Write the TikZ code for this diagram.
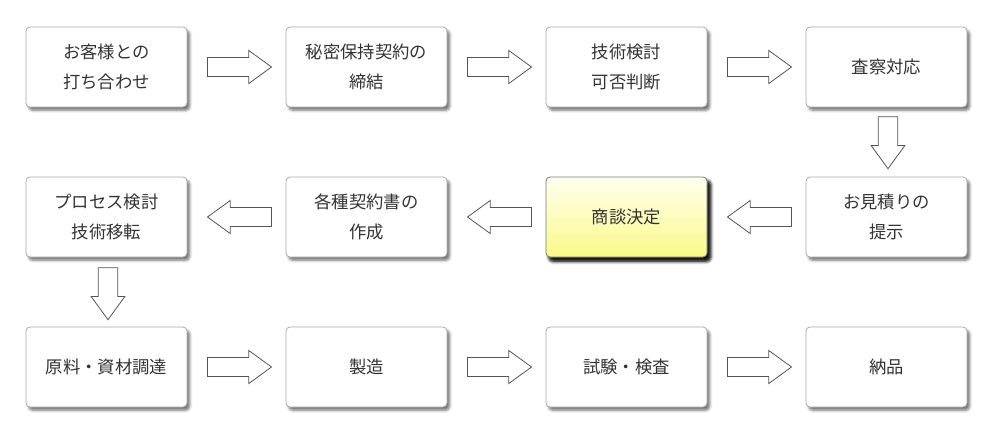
\documentclass[tikz,border=0pt]{standalone}
\usepackage{fontspec}
\setmainfont{Noto Sans CJK JP}
\usetikzlibrary{shapes.arrows,shadows.blur}
\definecolor{txt}{HTML}{333333}
\definecolor{bord}{HTML}{A8A8A8}
\definecolor{arr}{HTML}{555555}
\definecolor{ytop}{HTML}{FFFFF0}
\definecolor{ybot}{HTML}{FAFA88}
\tikzset{
  stepbox/.style={draw=bord, line width=0.6pt, rounded corners=3pt, fill=white,
    minimum width=161*0.75pt, minimum height=80*0.75pt, align=center,
    font=\fontsize{13pt}{22.5pt}\selectfont, text=txt,
    blur shadow={shadow xshift=2pt, shadow yshift=-2.5pt, shadow blur radius=2pt, shadow opacity=55}},
  hlbox/.style={stepbox, draw=arr!80, top color=ytop, bottom color=ybot,
    blur shadow={shadow xshift=2.5pt, shadow yshift=-3pt, shadow blur radius=2.5pt, shadow opacity=80}},
  blockarrow/.style={single arrow, draw=arr, line width=0.6pt, fill=white,
    inner sep=0pt, inner ysep=6.8pt, minimum height=64*0.75pt,
    single arrow head extend=5.3pt, single arrow tip angle=72},
  downarrow/.style={blockarrow, inner xsep=7pt, inner ysep=0pt, shape border rotate=270, minimum height=52*0.75pt},
  leftarrow/.style={blockarrow, shape border rotate=180}
}
\begin{document}
\begin{tikzpicture}[x=0.75pt,y=-0.75pt]
\useasboundingbox (0,0) rectangle (1000,440);
% row 1
\node[stepbox] (a1) at (106.5,67) {お客様との\\打ち合わせ};
\node[stepbox] (a2) at (366.5,67) {秘密保持契約の\\締結};
\node[stepbox] (a3) at (626.5,67) {技術検討\\可否判断};
\node[stepbox] (a4) at (886.5,67) {査察対応};
% row 2
\node[stepbox] (b4) at (886.5,217) {お見積りの\\提示};
\node[hlbox]   (b3) at (626.5,217) {商談決定};
\node[stepbox] (b2) at (366.5,217) {各種契約書の\\作成};
\node[stepbox] (b1) at (106.5,217) {プロセス検討\\技術移転};
% row 3
\node[stepbox] (c1) at (106.5,367) {原料・資材調達};
\node[stepbox] (c2) at (366.5,367) {製造};
\node[stepbox] (c3) at (626.5,367) {試験・検査};
\node[stepbox] (c4) at (886.5,367) {納品};
% arrows
\node[blockarrow] (r1) at (233,67) {};
\node[blockarrow] (r2) at (493,67) {};
\node[blockarrow] (r3) at (753,67) {};
\node[downarrow]  (d4) at (888,136) {};
\node[leftarrow]  (l3) at (766,217) {};
\node[leftarrow]  (l2) at (506,217) {};
\node[leftarrow]  (l1) at (246,217) {};
\node[downarrow]  (d1) at (108,287) {};
\node[blockarrow] (s1) at (233,367) {};
\node[blockarrow] (s2) at (493,367) {};
\node[blockarrow] (s3) at (753,367) {};
\end{tikzpicture}
\end{document}
